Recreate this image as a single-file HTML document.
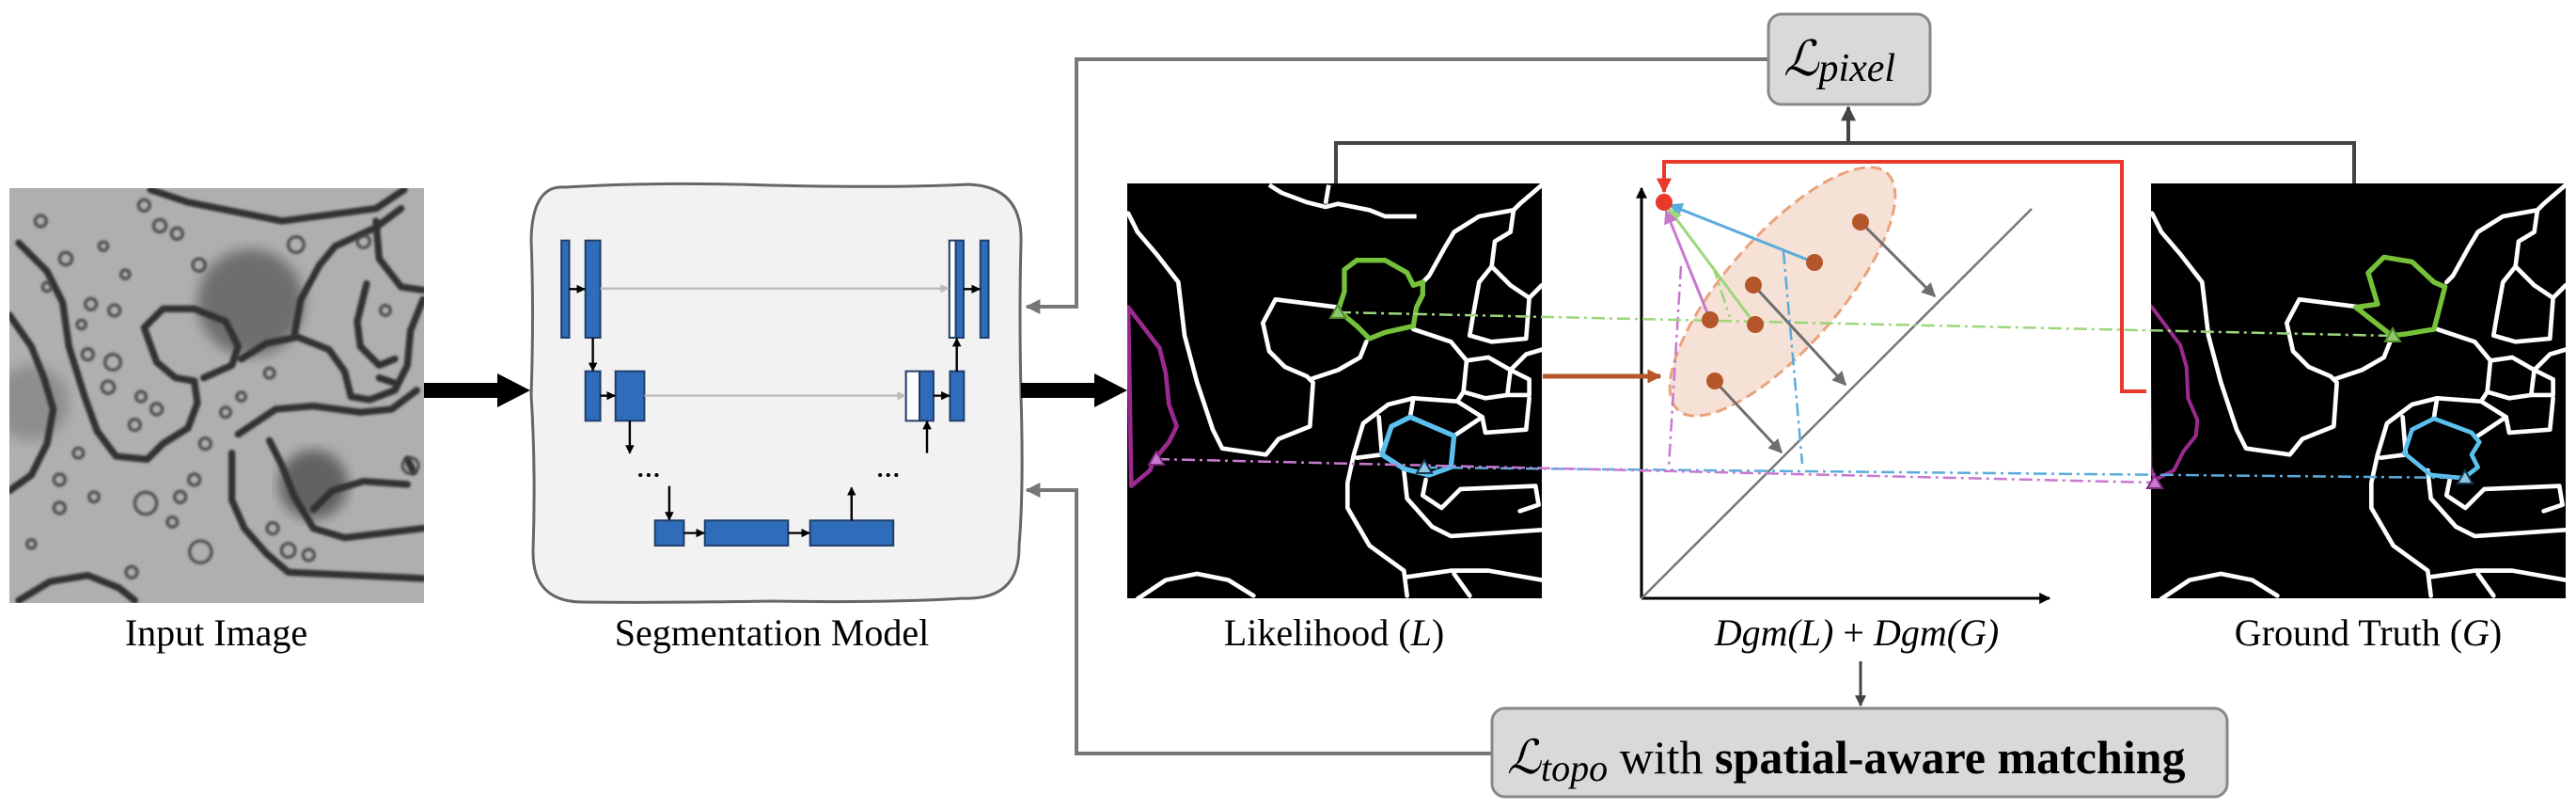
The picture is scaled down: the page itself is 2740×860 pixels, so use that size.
<!DOCTYPE html>
<html><head><meta charset="utf-8"><style>
html,body{margin:0;padding:0;background:#fff;}
svg{display:block;}
</style></head><body>
<svg width="2740" height="860" viewBox="0 0 2740 860" xmlns="http://www.w3.org/2000/svg" font-family="'Liberation Serif', 'DejaVu Serif', serif">
<defs>
<marker id="ab" viewBox="0 0 10 10" refX="9" refY="5" markerWidth="4" markerHeight="4" orient="auto"><path d="M0,0 L10,5 L0,10z" fill="#000"/></marker>
<marker id="ag" viewBox="0 0 10 10" refX="9" refY="5" markerWidth="4" markerHeight="4" orient="auto"><path d="M0,0 L10,5 L0,10z" fill="#bbb"/></marker>
<marker id="ad" viewBox="0 0 10 10" refX="9" refY="5" markerWidth="4" markerHeight="4" orient="auto"><path d="M0,0 L10,5 L0,10z" fill="#444"/></marker>
<marker id="am" viewBox="0 0 10 10" refX="9" refY="5" markerWidth="4" markerHeight="4" orient="auto"><path d="M0,0 L10,5 L0,10z" fill="#777"/></marker>
<marker id="ar" viewBox="0 0 10 10" refX="9" refY="5" markerWidth="4" markerHeight="4" orient="auto"><path d="M0,0 L10,5 L0,10z" fill="#e8392b"/></marker>
<marker id="agr" viewBox="0 0 10 10" refX="9" refY="5" markerWidth="5" markerHeight="5" orient="auto"><path d="M0,0 L10,5 L0,10z" fill="#6e6e6e"/></marker>
<marker id="abl" viewBox="0 0 10 10" refX="9" refY="5" markerWidth="5" markerHeight="5" orient="auto"><path d="M0,0 L10,5 L0,10z" fill="#5aacdc"/></marker>
<marker id="agn" viewBox="0 0 10 10" refX="9" refY="5" markerWidth="5" markerHeight="5" orient="auto"><path d="M0,0 L10,5 L0,10z" fill="#9cd67a"/></marker>
<marker id="amg" viewBox="0 0 10 10" refX="9" refY="5" markerWidth="5" markerHeight="5" orient="auto"><path d="M0,0 L10,5 L0,10z" fill="#c879cf"/></marker>
<marker id="abr" viewBox="0 0 10 10" refX="9" refY="5" markerWidth="3" markerHeight="3" orient="auto"><path d="M0,0 L10,5 L0,10z" fill="#b5562a"/></marker>
<filter id="bl"><feGaussianBlur stdDeviation="4"/></filter>
<filter id="bl2"><feGaussianBlur stdDeviation="20"/></filter>
<clipPath id="cin"><rect x="10" y="200" width="441" height="441"/></clipPath>
<clipPath id="cl"><rect x="1199" y="195" width="441" height="441"/></clipPath>
<clipPath id="cg"><rect x="2288" y="195" width="441" height="441"/></clipPath>
<g id="seg" fill="none" stroke="#fff" stroke-width="14" stroke-linejoin="round" stroke-linecap="round">
<path d="M30,110 L60,170 L120,240 L190,330 L210,500 L250,650 L300,800 L330,860 L470,880 L510,830 L610,790 L620,650 L600,630 L530,600 L480,550 L460,460 L500,385 L700,410"/>
<path d="M790,520 L770,570 L700,610 L610,640"/>
<path d="M940,480 L1060,520 L1110,580 L1180,570 L1250,610 L1300,560 L1350,545"/>
<path d="M1350,20 L1280,80 L1260,100 L1150,120 L1070,170 L1040,220 L990,310 L970,330"/>
<path d="M1260,100 L1250,170 L1200,200 L1190,280 L1150,330 L1130,440 L1120,500 L1190,520 L1300,510 L1310,380 L1350,340 M1190,280 L1250,340 L1310,380"/>
<path d="M1110,580 L1100,680 L1170,700 L1240,690 L1250,610 M1240,690 L1310,690 L1310,640 L1250,610 M1100,680 L1080,710 L1160,760 L1170,810 L1300,800 L1310,700"/>
<path d="M1080,710 L940,700 L860,720 L780,780 L750,880 L730,970 L730,1050 L800,1170 L910,1250 L920,1330"/>
<path d="M940,700 L930,760 M830,760 L840,880 L760,890 M1070,820 L1160,760"/>
<path d="M910,930 L920,1020 L1000,1110 L1060,1140 L1350,1120"/>
<path d="M980,960 L970,1010 L1030,1050 L1090,990 L1330,980 L1340,1040 L1280,1060"/>
<path d="M60,1340 L150,1280 L250,1260 L350,1280 L430,1330"/>
<path d="M920,1270 L1060,1250 L1180,1250 L1350,1280 M1070,1260 L1120,1330"/>
</g>
</defs>

<!-- Input image -->
<g clip-path="url(#cin)">
<rect x="10" y="200" width="441" height="441" fill="#afafaf"/>
<g transform="translate(0,195) scale(0.3333)">
<circle cx="800" cy="380" r="170" fill="#6e6e6e" filter="url(#bl2)"/>
<circle cx="1000" cy="960" r="110" fill="#626262" filter="url(#bl2)"/>
<circle cx="100" cy="700" r="120" fill="#8e8e8e" filter="url(#bl2)"/>
<g fill="none" stroke="#333" stroke-width="22" stroke-linejoin="round" stroke-linecap="round" filter="url(#bl)">
<path d="M60,190 L150,280 L200,380 L220,520 L270,680 L310,790 L370,870 L470,880 L520,830 L600,780 L630,700 L620,630 L560,620 L500,570 L460,460 L520,400 L620,400 L720,440 L760,520 L740,580 L650,620"/>
<path d="M770,560 L850,510 L950,490 L1050,530 L1100,600 L1120,680 L1180,690 L1260,660 L1300,580 L1310,470 L1350,370"/>
<path d="M760,800 L880,720 L1000,710 L1150,730 L1250,720 L1330,660"/>
<path d="M740,860 L740,1010 L780,1100 L850,1180 L920,1240 L1350,1260"/>
<path d="M860,820 L900,900 L940,1000 L1000,1100 L1100,1130 L1350,1100"/>
<path d="M1000,1040 L1060,980 L1160,950 L1300,960"/>
<path d="M480,20 L600,60 L750,90 L900,120 L1050,100 L1200,80 L1290,20"/>
<path d="M940,480 L960,370 L1020,260 L1070,200 L1200,140 L1280,80"/>
<path d="M1200,120 L1210,240 L1280,330 L1350,340"/>
<path d="M1170,320 L1140,440 L1150,520 L1210,580 L1260,560"/>
<path d="M30,420 L100,520 L140,620 L170,720 L150,830 L100,930 L30,980"/>
<path d="M60,1330 L160,1270 L280,1250 L380,1290 L430,1330"/>
<path d="M1210,620 L1270,640 M1300,880 L1320,920"/>
</g>
<g fill="none" stroke="#444" stroke-width="10" filter="url(#bl)" opacity="0.9">
<circle cx="130" cy="120" r="18"/><circle cx="210" cy="240" r="20"/><circle cx="290" cy="385" r="18"/><circle cx="365" cy="405" r="18"/>
<circle cx="280" cy="545" r="18"/><circle cx="360" cy="570" r="25"/><circle cx="345" cy="650" r="20"/><circle cx="450" cy="680" r="16"/>
<circle cx="500" cy="720" r="18"/><circle cx="430" cy="770" r="18"/><circle cx="510" cy="135" r="20"/><circle cx="565" cy="160" r="18"/>
<circle cx="635" cy="260" r="20"/><circle cx="460" cy="70" r="18"/><circle cx="945" cy="195" r="25"/><circle cx="1160" cy="185" r="20"/>
<circle cx="860" cy="605" r="16"/><circle cx="720" cy="730" r="16"/><circle cx="655" cy="830" r="18"/><circle cx="620" cy="945" r="18"/>
<circle cx="465" cy="1020" r="35"/><circle cx="575" cy="1000" r="18"/><circle cx="640" cy="1175" r="35"/><circle cx="550" cy="1080" r="16"/>
<circle cx="190" cy="945" r="18"/><circle cx="190" cy="1035" r="18"/><circle cx="870" cy="1100" r="18"/><circle cx="920" cy="1170" r="22"/>
<circle cx="985" cy="1185" r="18"/><circle cx="1310" cy="900" r="25"/><circle cx="420" cy="1240" r="18"/><circle cx="250" cy="860" r="16"/>
<circle cx="1230" cy="405" r="16"/><circle cx="400" cy="290" r="14"/><circle cx="260" cy="450" r="14"/><circle cx="770" cy="680" r="14"/>
<circle cx="330" cy="200" r="14"/><circle cx="150" cy="330" r="14"/><circle cx="300" cy="1000" r="16"/><circle cx="100" cy="1150" r="14"/>
</g>
</g>
</g>

<!-- Segmentation model box -->
<path d="M600,199 Q700,193 820,197 Q950,200 1030,196 Q1088,198 1086,258 Q1084,330 1086,420 Q1089,520 1084,580 Q1085,638 1025,636 Q940,641 820,639 Q700,641 620,640 Q566,640 567,585 Q570,500 565,420 Q568,330 565,255 Q566,197 600,199 Z" fill="#f2f2f2" stroke="#666" stroke-width="3"/>
<g transform="translate(560,190) scale(0.3444,0.3333)">
<g fill="#2f6dbb" stroke="#203f6a" stroke-width="6">
<rect x="108" y="197" width="24" height="310"/>
<rect x="182" y="197" width="46" height="310"/>
<rect x="1306" y="197" width="20" height="310" fill="#fff"/>
<rect x="1326" y="197" width="24" height="310"/>
<rect x="1402" y="197" width="25" height="310"/>
<rect x="182" y="614" width="46" height="158"/>
<rect x="275" y="614" width="89" height="158"/>
<rect x="1172" y="614" width="42" height="158" fill="#fff"/>
<rect x="1214" y="614" width="43" height="158"/>
<rect x="1308" y="614" width="43" height="158"/>
<rect x="397" y="1090" width="89" height="80"/>
<rect x="551" y="1090" width="257" height="80"/>
<rect x="876" y="1090" width="257" height="80"/>
</g>
<g stroke="#bbb" stroke-width="7" marker-end="url(#ag)">
<line x1="228" y1="350" x2="1304" y2="350"/>
<line x1="364" y1="692" x2="1170" y2="692"/>
</g>
<g stroke="#000" stroke-width="7" marker-end="url(#ab)">
<line x1="132" y1="352" x2="180" y2="352"/>
<line x1="205" y1="507" x2="205" y2="612"/>
<line x1="228" y1="692" x2="273" y2="692"/>
<line x1="319" y1="772" x2="319" y2="875"/>
<line x1="441" y1="980" x2="441" y2="1088"/>
<line x1="486" y1="1130" x2="549" y2="1130"/>
<line x1="808" y1="1130" x2="874" y2="1130"/>
<line x1="1004" y1="1090" x2="1004" y2="985"/>
<line x1="1237" y1="875" x2="1237" y2="774"/>
<line x1="1257" y1="692" x2="1306" y2="692"/>
<line x1="1329" y1="614" x2="1329" y2="510"/>
<line x1="1350" y1="352" x2="1400" y2="352"/>
</g>
<g fill="#000"><circle cx="352" cy="945" r="6"/><circle cx="377" cy="945" r="6"/><circle cx="402" cy="945" r="6"/>
<circle cx="1092" cy="945" r="6"/><circle cx="1117" cy="945" r="6"/><circle cx="1142" cy="945" r="6"/></g>
</g>

<!-- big black arrows -->
<path d="M451,407 L529,407 L529,397 L564,415 L529,433 L529,423 L451,423 Z" fill="#000"/>
<path d="M1086,407 L1164,407 L1164,397 L1199,415 L1164,433 L1164,423 L1086,423 Z" fill="#000"/>

<!-- Likelihood image -->
<g clip-path="url(#cl)">
<rect x="1199" y="195" width="441" height="441" fill="#000"/>
<g transform="translate(1190,190) scale(0.3333)">
<use href="#seg"/>
<path d="M480,20 L520,45 L600,75 L660,90 L700,80 L800,100 L850,120 L950,120 M660,80 L670,20" fill="none" stroke="#fff" stroke-width="14" stroke-linejoin="round"/>
<path d="M700,420 L720,360 L720,290 L760,260 L850,260 L920,300 L940,340 L970,330 L970,370 L950,410 L940,470 L850,490 L800,510 L760,470 Z" fill="none" stroke="#76c13a" stroke-width="16" stroke-linejoin="round"/>
<path d="M840,880 L870,790 L930,760 L1070,820 L1060,920 L990,945 L910,925 Z" fill="none" stroke="#5cc0ef" stroke-width="16" stroke-linejoin="round"/>
<path d="M30,410 L130,540 L150,620 L160,720 L185,790 L160,840 L110,900 L100,930 L40,980 Z" fill="none" stroke="#9a2a8f" stroke-width="14" stroke-linejoin="round"/>
</g>
</g>

<!-- GT image -->
<g clip-path="url(#cg)">
<rect x="2288" y="195" width="441" height="441" fill="#000"/>
<g transform="translate(2279,190) scale(0.3333)">
<use href="#seg"/>
<path d="M680,410 L750,400 L720,300 L770,250 L860,265 L930,330 L965,345 L930,480 L840,495 L795,500 Z" fill="none" stroke="#76c13a" stroke-width="16" stroke-linejoin="round"/>
<path d="M835,875 L860,800 L930,765 L1050,810 L1075,840 L1050,880 L1070,920 L1025,955 L920,945 Z" fill="none" stroke="#5cc0ef" stroke-width="14" stroke-linejoin="round"/>
<path d="M18,400 L30,410 L120,530 L140,600 L145,700 L175,770 L170,820 L130,870 L100,930 L40,960 L25,920 Z" fill="none" stroke="#9a2a8f" stroke-width="12" stroke-linejoin="round"/>
</g>
</g>

<!-- persistence diagram -->
<line x1="1746" y1="636" x2="2180" y2="636" stroke="#000" stroke-width="3" marker-end="url(#ab)"/>
<line x1="1746" y1="636" x2="1746" y2="200" stroke="#000" stroke-width="3" marker-end="url(#ab)"/>
<line x1="1746" y1="636" x2="2161" y2="222" stroke="#777" stroke-width="2.5"/>
<ellipse cx="1896" cy="310" rx="168" ry="60" transform="rotate(-48.6 1896 310)" fill="#f5e1d5" stroke="#eaa37c" stroke-width="3" stroke-dasharray="12 6"/>
<g stroke-width="2.5" fill="none" stroke-dasharray="14 5 3 5">
<line x1="1788" y1="283" x2="1775" y2="497" stroke="#c879cf"/>
<line x1="1897" y1="267" x2="1917" y2="493" stroke="#5aacdc"/>
<line x1="1822" y1="283" x2="1840" y2="337" stroke="#9cd67a"/>
<line x1="1423" y1="332" x2="2545" y2="357" stroke="#9cd67a"/>
<line x1="1515" y1="497" x2="2622" y2="508" stroke="#5aacdc"/>
<line x1="1230" y1="488" x2="2292" y2="513" stroke="#c879cf"/>
</g>
<g stroke-width="3" stroke="#6e6e6e" marker-end="url(#agr)">
<line x1="1979" y1="236" x2="2058" y2="315"/>
<line x1="1865" y1="303" x2="1963" y2="409"/>
<line x1="1824" y1="405" x2="1895" y2="481"/>
</g>
<line x1="1930" y1="279" x2="1776" y2="218" stroke="#5aacdc" stroke-width="3" marker-end="url(#abl)"/>
<line x1="1867" y1="345" x2="1775" y2="222" stroke="#9cd67a" stroke-width="3" marker-end="url(#agn)"/>
<line x1="1819" y1="340" x2="1772" y2="224" stroke="#c879cf" stroke-width="3" marker-end="url(#amg)"/>
<g fill="#b5562a">
<circle cx="1979" cy="236" r="9"/><circle cx="1930" cy="279" r="9"/><circle cx="1865" cy="303" r="9"/>
<circle cx="1819" cy="340" r="9"/><circle cx="1867" cy="345" r="9"/><circle cx="1824" cy="405" r="9"/>
</g>
<circle cx="1770" cy="215" r="9" fill="#e8392b"/>
<path d="M2283,416 L2257,416 L2257,172 L1770,172 L1770,204" fill="none" stroke="#e8392b" stroke-width="4" marker-end="url(#ar)"/>
<line x1="1641" y1="400" x2="1766" y2="400" stroke="#b5562a" stroke-width="5" marker-end="url(#abr)"/>

<!-- triangles -->
<g stroke-width="2">
<path d="M1423,324 L1431,338 L1415,338 Z" fill="#8fc66a" stroke="#4f8a2c"/>
<path d="M2545,349 L2553,363 L2537,363 Z" fill="#8fc66a" stroke="#4f8a2c"/>
<path d="M1515,489 L1523,503 L1507,503 Z" fill="#8cc6e4" stroke="#17344a"/>
<path d="M2622,500 L2630,514 L2614,514 Z" fill="#8cc6e4" stroke="#17344a"/>
<path d="M1230,480 L1238,494 L1222,494 Z" fill="#c879cf" stroke="#7a2a7a"/>
<path d="M2292,505 L2300,519 L2284,519 Z" fill="#c879cf" stroke="#7a2a7a"/>
</g>

<!-- connectors -->
<path d="M1421,195 L1421,152 L2504,152 L2504,195" fill="none" stroke="#444" stroke-width="4"/>
<line x1="1966" y1="152" x2="1966" y2="114" stroke="#444" stroke-width="4" marker-end="url(#ad)"/>
<path d="M1881,63 L1145,63 L1145,326 L1092,326" fill="none" stroke="#777" stroke-width="4" marker-end="url(#am)"/>
<path d="M1587,801 L1145,801 L1145,521 L1092,521" fill="none" stroke="#777" stroke-width="4" marker-end="url(#am)"/>
<line x1="1979" y1="703" x2="1979" y2="750" stroke="#444" stroke-width="3" marker-end="url(#ad)"/>

<!-- loss boxes -->
<rect x="1881" y="15" width="172" height="96" rx="14" fill="#d9d9d9" stroke="#888" stroke-width="3"/>
<text x="1897" y="80" font-size="52" font-style="italic" font-family="'Liberation Serif', 'DejaVu Serif', serif">ℒ<tspan font-size="42" dy="6">pixel</tspan></text>
<rect x="1587" y="753" width="782" height="94" rx="14" fill="#d9d9d9" stroke="#888" stroke-width="3"/>
<text x="1603" y="822" font-size="50" font-family="'Liberation Serif', 'DejaVu Serif', serif"><tspan font-style="italic">ℒ</tspan><tspan font-size="40" font-style="italic" dy="8">topo</tspan><tspan dy="-8"> with </tspan><tspan font-weight="bold">spatial-aware matching</tspan></text>

<!-- labels -->
<g font-size="40" text-anchor="middle" font-family="'Liberation Serif', 'DejaVu Serif', serif">
<text x="230" y="686">Input Image</text>
<text x="821" y="686">Segmentation Model</text>
<text x="1419" y="686">Likelihood (<tspan font-style="italic">L</tspan>)</text>
<text x="1975" y="686"><tspan font-style="italic">Dgm(L)</tspan> + <tspan font-style="italic">Dgm(G)</tspan></text>
<text x="2519" y="686">Ground Truth (<tspan font-style="italic">G</tspan>)</text>
</g>
</svg>
</body></html>
